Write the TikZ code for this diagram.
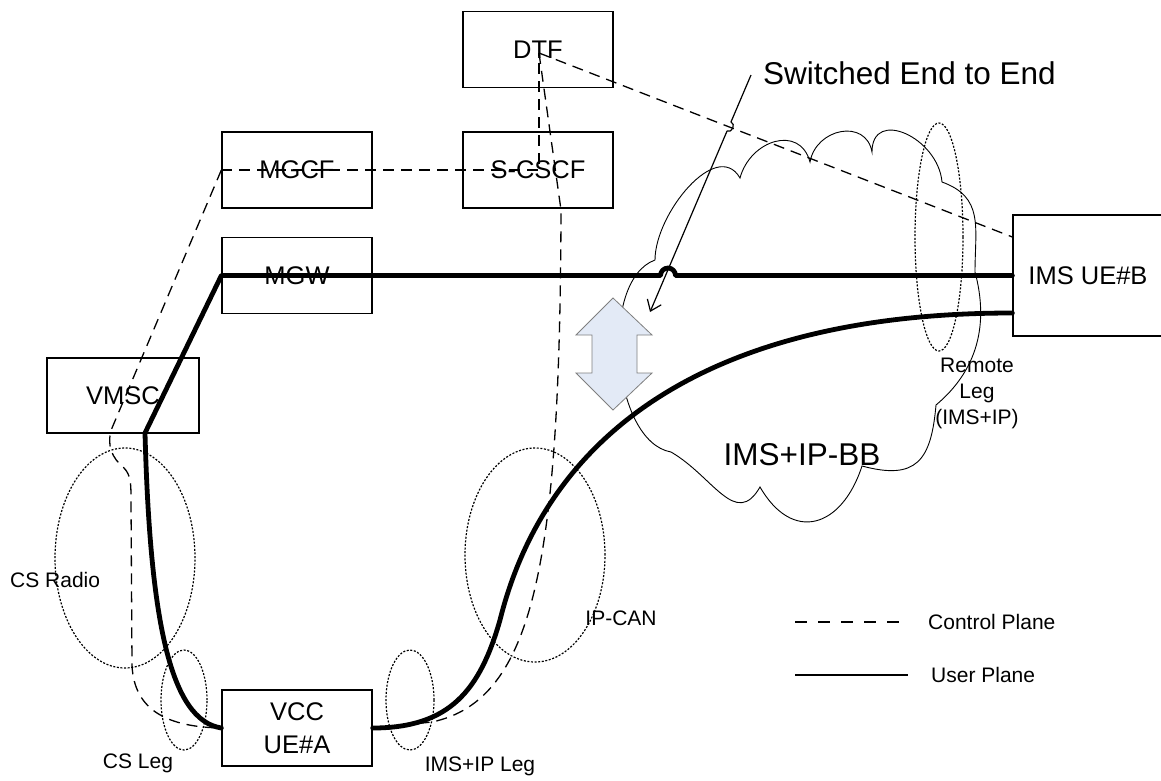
\documentclass[tikz,border=0pt]{standalone}
\usepackage{fontspec}
\setmainfont{Liberation Sans}
\usetikzlibrary{arrows.meta}
\definecolor{arrowfill}{HTML}{E3EAF6}
\definecolor{arrowline}{HTML}{7F7F7F}
\begin{document}
\begin{tikzpicture}[x=1pt,y=1pt,
  box/.style={draw, line width=1.3pt, fill=white, minimum width=150pt, minimum height=76pt, inner sep=0pt, font=\fontsize{25.5}{33}\selectfont, align=center},
  ctrl/.style={line width=1.3pt, dash pattern=on 11pt off 7pt},
  userp/.style={line width=4.8pt, line join=round, line cap=round},
  dotring/.style={line width=1.2pt, dash pattern=on 2pt off 1.6pt},
  small/.style={font=\fontsize{21}{26}\selectfont, inner sep=0pt},
  big/.style={font=\fontsize{31.5}{36}\selectfont, inner sep=0pt},
  cloudline/.style={line width=0.9pt},
]
\useasboundingbox (0,0) rectangle (1161,-780);

% cloud
\draw[cloudline] (655,-260)
 to[out=90,in=120] (740,-178)
 to[out=75,in=105,looseness=1.4] (810,-162)
 to[out=80,in=100,looseness=1.4] (872,-152)
 to[out=90,in=95,looseness=1.5] (942,-182)
 to[out=-20,in=90,looseness=1.2] (975,-272)
 to[out=-75,in=40] (936,-405)
 to[out=-95,in=-15,looseness=1.5] (862,-466)
 to[out=-108,in=-60,looseness=1.6] (760,-487)
 to[out=-120,in=-30,looseness=1.3] (671,-452)
 to[out=170,in=200,looseness=0.8] (655,-260);

% dotted rings
\draw[dotring] (125,-558) ellipse [x radius=70, y radius=110];
\draw[dotring] (184,-700) ellipse [x radius=23, y radius=50];
\draw[dotring] (410,-700) ellipse [x radius=24, y radius=50];
\draw[dotring] (535,-555) ellipse [x radius=70, y radius=107];
\draw[dotring] (939,-237) ellipse [x radius=24, y radius=114];

% boxes
\node[box] (dtf) at (538,-49.5) {DTF};
\node[box] (mgcf) at (297,-170) {MGCF};
\node[box] (scscf) at (538,-170) {S-CSCF};
\node[box] (mgw) at (297,-275.5) {MGW};
\node[box, minimum width=152pt, minimum height=75pt] (vmsc) at (123,-395.5) {VMSC};
\node[box] (vcc) at (297,-728) {VCC\\UE\#A};
\node[box, minimum height=121pt] (imsb) at (1088,-275.5) {IMS UE\#B};

% helper coordinates
\coordinate (dtfp) at (539,-53);
\coordinate (imsbt) at ([yshift=38.5pt]imsb.west);
\coordinate (imsbl) at ([yshift=-37.5pt]imsb.west);
\coordinate (vmscb) at (145,-433);

% control plane
\draw[ctrl] (mgcf.west) -- (mgcf.west -| dtfp) -- (dtfp);
\draw[ctrl] (dtfp) -- (imsbt);
\draw[ctrl] (dtfp) -- (561,-210) .. controls (560,-560) and (535,-700) .. (432,-722) -- (vcc.east);
\draw[ctrl] (mgcf.west) -- (112,-428) .. controls (106,-445) and (112,-458) .. (124,-468)
  .. controls (131,-475) and (131,-485) .. (131,-500) -- (132,-665)
  .. controls (134,-712) and (170,-727) .. (vcc.west);

% user plane
\draw[userp] (imsb.west) -- (675.5,-275.5) arc[start angle=0,end angle=180,radius=7.5]
  -- (mgw.west) -- (vmscb) .. controls (150,-620) and (170,-720) .. (vcc.west);
\draw[userp] (vcc.east) .. controls (450,-728) and (480,-690) .. (500,-620)
  .. controls (545,-440) and (700,-313) .. (imsbl);

% double arrow
\draw[fill=arrowfill, draw=arrowline, line width=0.8pt, line join=miter]
  (613,-298) -- (652,-335) -- (637,-335) -- (637,-373) -- (652,-373) -- (613,-410)
  -- (576,-373) -- (592,-373) -- (592,-335) -- (576,-335) -- cycle;

% switched end to end
\node[big, anchor=west] (sw) at (763,-73) {Switched End to End};
\coordinate (swa) at (751,-75);
\coordinate (swb) at (650,-312);
\draw[line width=1.2pt, -{Straight Barb[length=10pt,width=15pt]}] (swa) -- (731,-121.9)
  to[bend left=90,looseness=1.4] (727,-131.1) -- (swb);

% labels
\node[small, anchor=west] (csradio) at (10,-580) {CS Radio};
\node[small] (csleg) at (138,-763) {CS Leg};
\node[small] (imsipleg) at (480,-766) {IMS+IP Leg};
\node[small] (ipcan) at (621,-618) {IP-CAN};
\node[small, align=center] (remote) at (977,-393) {Remote\\Leg\\(IMS+IP)};
\node[big] (bb) at (802,-455) {IMS+IP-BB};

% legend
\coordinate (l1a) at (795,-622); \coordinate (l1b) at (900,-622);
\coordinate (l2a) at (795,-675); \coordinate (l2b) at (908,-675);
\draw[line width=1.5pt, dash pattern=on 12pt off 11pt] (l1a) -- (l1b);
\draw[line width=2pt] (l2a) -- (l2b);
\node[small, anchor=west] (cp) at (928,-622) {Control Plane};
\node[small, anchor=west] (up) at (931,-675) {User Plane};
\end{tikzpicture}
\end{document}
